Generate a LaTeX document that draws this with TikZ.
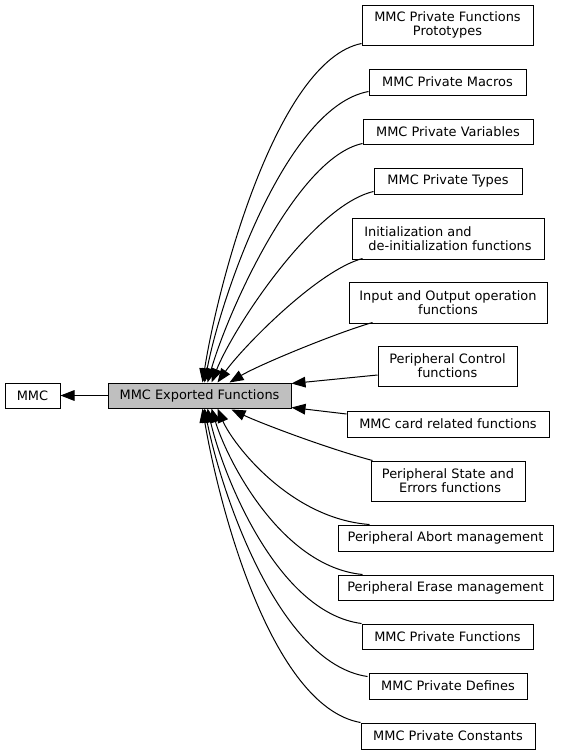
\documentclass[tikz,border=0pt]{standalone}
\usepackage{fontspec}
\setmainfont{DejaVu Sans}
\usetikzlibrary{arrows.meta,calc}
\tikzset{
  box/.style={draw=black, line width=0.75pt, fill=white, inner sep=0pt, align=center,
    font=\fontsize{9.7}{10.6}\selectfont},
  mainbox/.style={box, fill=gray!50},
  edge/.style={line width=0.75pt, -{Triangle[length=10.5pt,width=8pt]}}
}
\begin{document}
\begin{tikzpicture}[x=0.75pt,y=-0.75pt]
\useasboundingbox (0,0) rectangle (563,754);
% nodes
\node[box, minimum width=41.25pt, minimum height=18.75pt] (mmc) at (32.5,395.5) {MMC};
\node[mainbox, minimum width=137.25pt, minimum height=18.75pt] (main) at (199.5,395.5) {MMC Exported Functions};
\node[box, minimum width=128.25pt, minimum height=30pt] (proto) at (447.5,25) {MMC Private Functions\\Prototypes};
\node[box, minimum width=117.75pt, minimum height=19.5pt] (macros) at (447.5,82) {MMC Private Macros};
\node[box, minimum width=127.5pt, minimum height=18.75pt] (vars) at (448,131.5) {MMC Private Variables};
\node[box, minimum width=111pt, minimum height=19.5pt] (types) at (448,181) {MMC Private Types};
\node[box, minimum width=144pt, minimum height=30.75pt, align=left] (init) at (448,238.5) {Initialization and\\\ de-initialization functions};
\node[box, minimum width=148.5pt, minimum height=30.75pt] (io) at (448,302.5) {Input and Output operation\\functions};
\node[box, minimum width=104.25pt, minimum height=30pt] (ctrl) at (447.5,366) {Peripheral Control\\functions};
\node[box, minimum width=151.5pt, minimum height=19.5pt] (card) at (448,424) {MMC card related functions};
\node[box, minimum width=115.5pt, minimum height=30pt] (state) at (448,481) {Peripheral State and\\\ Errors functions};
\node[box, minimum width=161.25pt, minimum height=19.5pt] (abort) at (445.5,538) {Peripheral Abort management};
\node[box, minimum width=161.25pt, minimum height=18.75pt] (erase) at (445.5,587.5) {Peripheral Erase management};
\node[box, minimum width=128.25pt, minimum height=18.75pt] (pfunc) at (447.5,636.5) {MMC Private Functions};
\node[box, minimum width=118.5pt, minimum height=19.5pt] (defs) at (448,686) {MMC Private Defines};
\node[box, minimum width=130.5pt, minimum height=19.5pt] (consts) at (448,736) {MMC Private Constants};
% edges
\draw[edge] (main.west) -- (mmc.east);
\draw[edge] ($(proto.south west)+(0,-2)$) .. controls +(-84,17) and +(16,-102) .. ($(main.north west)+(95,0)$);
\draw[edge] ($(macros.south west)+(0,-4)$) .. controls +(-82,15) and +(17,-88) .. ($(main.north west)+(97,0)$);
\draw[edge] ($(vars.south west)+(0,-1)$) .. controls +(-66,14) and +(20,-70) .. ($(main.north west)+(100,0)$);
\draw[edge] ($(types.south west)+(0,-3)$) .. controls +(-60,14) and +(22,-55) .. ($(main.north west)+(104,0)$);
\draw[edge] ($(init.south west)+(11,-1)$) .. controls +(-45,12) and +(25,-35) .. ($(main.north west)+(110,0)$);
\draw[edge] ($(io.south west)+(24,-1)$) .. controls +(-35,10) and +(30,-18) .. ($(main.north west)+(122,0)$);
\draw[edge] ($(ctrl.west)+(0,9)$) -- ($(main.north east)+(0,1)$);
\draw[edge] ($(card.west)+(0,-10)$) -- ($(main.south east)+(0,-1)$);
\draw[edge] ($(state.north west)+(2,0)$) .. controls +(-45,-12) and +(30,14) .. ($(main.south west)+(124,1)$);
\draw[edge] ($(abort.north west)+(32,0)$) .. controls +(-80,-6) and +(15,35) .. ($(main.south west)+(110,0)$);
\draw[edge] ($(erase.north west)+(25,0)$) .. controls +(-82,-8) and +(15,50) .. ($(main.south west)+(104,0)$);
\draw[edge] (pfunc.north west) .. controls +(-85,-11) and +(15,65) .. ($(main.south west)+(100,0)$);
\draw[edge] ($(defs.north west)+(-1,4)$) .. controls +(-90,-13) and +(16,81) .. ($(main.south west)+(97,0)$);
\draw[edge] (consts.north west) .. controls +(-90,-16) and +(16,95) .. ($(main.south west)+(95,0)$);
\end{tikzpicture}
\end{document}
